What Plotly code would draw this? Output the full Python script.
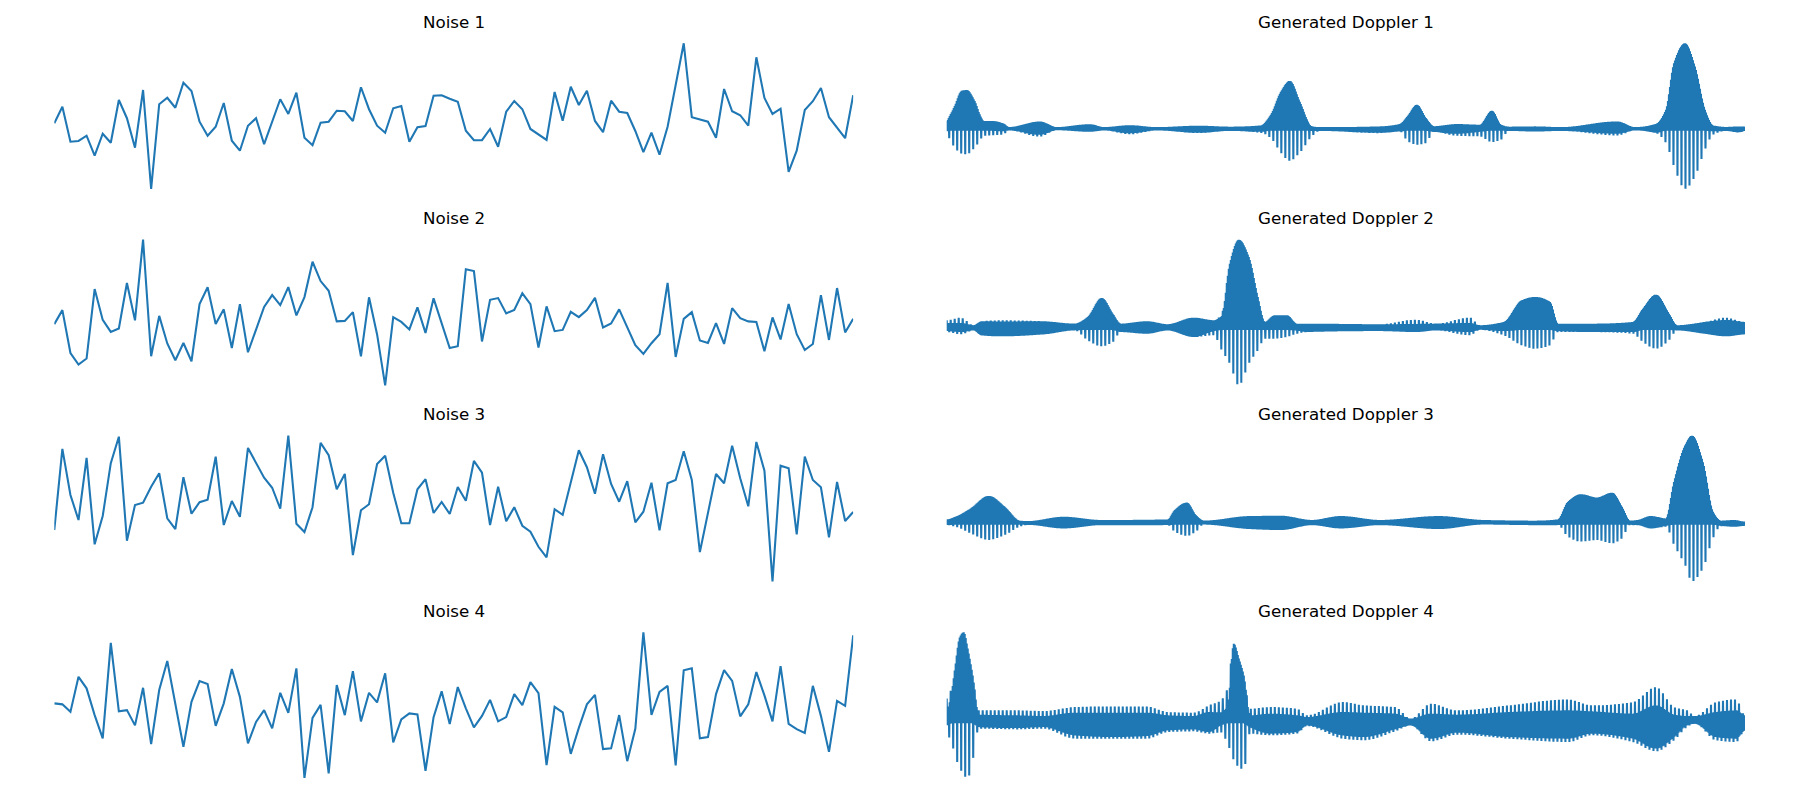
import numpy as np
import plotly.graph_objects as go

# ---------------- Noise series (arbitrary units, 100 samples each) ----------------
noise_1 = [-0.13, 0.53, -0.87, -0.84, -0.63, -1.43, -0.55, -0.91, 0.80, 0.07,
           -1.11, 1.20, -2.76, 0.63, 0.89, 0.49, 1.49, 1.16, -0.07, -0.63,
           -0.27, 0.68, -0.83, -1.23, -0.23, 0.07, -0.97, -0.07, 0.83, 0.24,
           1.09, -0.71, -1.01, -0.11, -0.07, 0.37, 0.35, -0.04, 1.31, 0.43,
           -0.23, -0.51, 0.47, 0.56, -0.87, -0.29, -0.24, 0.97, 0.99, 0.85,
           0.73, -0.43, -0.81, -0.81, -0.36, -1.07, 0.33, 0.76, 0.43, -0.36,
           -0.57, -0.80, 1.12, -0.03, 1.33, 0.60, 1.17, -0.04, -0.49, 0.77,
           0.33, 0.28, -0.44, -1.29, -0.51, -1.39, -0.27, 1.40, 3.07, 0.11,
           0.03, -0.07, -0.71, 1.24, 0.35, 0.19, -0.23, 2.51, 0.88, 0.24,
           0.45, -2.08, -1.23, 0.40, 0.75, 1.28, 0.11, -0.31, -0.73, 0.99]
noise_2 = [-0.32, 0.24, -1.47, -1.93, -1.69, 1.08, -0.15, -0.63, -0.49, 1.32,
           -0.17, 3.05, -1.60, 0.01, -1.09, -1.76, -1.07, -1.80, 0.48, 1.15,
           -0.31, 0.27, -1.27, 0.48, -1.44, -0.56, 0.37, 0.84, 0.44, 1.16,
           0.03, 0.76, 2.17, 1.40, 1.01, -0.21, -0.19, 0.16, -1.60, 0.75,
           -0.73, -2.76, -0.04, -0.23, -0.53, 0.35, -0.67, 0.71, -0.32, -1.27,
           -1.20, 1.87, 1.80, -1.01, 0.65, 0.72, 0.11, 0.25, 0.91, 0.48,
           -1.25, 0.39, -0.60, -0.55, 0.17, -0.04, 0.24, 0.73, -0.45, -0.29,
           0.27, -0.45, -1.16, -1.51, -1.08, -0.72, 1.33, -1.63, -0.11, 0.16,
           -0.97, -1.07, -0.28, -1.11, 0.32, -0.08, -0.21, -0.23, -1.40, -0.05,
           -0.93, 0.48, -0.72, -1.35, -1.11, 0.84, -0.95, 1.12, -0.65, -0.11]
noise_3 = [-1.00, 2.24, 0.40, -0.60, 1.88, -1.57, -0.44, 1.67, 2.73, -1.43,
           0.00, 0.09, 0.73, 1.27, -0.53, -0.96, 1.11, -0.35, 0.11, 0.21,
           1.93, -0.80, 0.16, -0.47, 2.28, 1.67, 1.09, 0.69, -0.15, 2.77,
           -0.75, -1.08, -0.09, 2.48, 1.99, 0.63, 1.24, -2.00, -0.21, 0.03,
           1.64, 1.97, 0.49, -0.73, -0.73, 0.63, 1.03, -0.32, 0.12, -0.36,
           0.72, 0.17, 1.76, 1.29, -0.80, 0.73, -0.65, -0.09, -0.83, -1.07,
           -1.67, -2.09, -0.17, -0.39, 0.87, 2.19, 1.51, 0.45, 2.03, 0.84,
           0.13, 0.95, -0.69, -0.27, 0.89, -1.01, 0.87, 1.00, 2.15, 1.00,
           -1.88, -0.29, 1.24, 0.87, 2.37, 1.07, -0.05, 2.52, 1.37, -3.05,
           1.57, 1.47, -1.17, 1.93, 1.00, 0.71, -1.29, 0.92, -0.64, -0.28]
noise_4 = [0.07, 0.03, -0.27, 1.13, 0.67, -0.40, -1.33, 2.49, -0.25, -0.20,
           -0.81, 0.69, -1.56, 0.60, 1.76, 0.07, -1.67, 0.13, 0.96, 0.84,
           -0.83, 0.07, 1.44, 0.33, -1.53, -0.67, -0.20, -0.93, 0.49, -0.31,
           1.47, -2.91, -0.51, 0.01, -2.73, 0.80, -0.40, 1.36, -0.65, 0.49,
           0.11, 1.27, -1.49, -0.57, -0.33, -0.37, -2.63, -0.48, 0.55, -0.76,
           0.72, -0.13, -0.89, -0.43, 0.21, -0.65, -0.48, 0.44, 0.00, 0.92,
           0.48, -2.40, -0.07, -0.29, -1.95, -0.91, 0.03, 0.41, -1.76, -1.73,
           -0.40, -2.24, -0.95, 2.91, -0.39, 0.53, 0.77, -2.41, 1.39, 1.47,
           -1.33, -1.28, 0.44, 1.40, 0.97, -0.45, 0.03, 1.32, 0.39, -0.65,
           1.56, -0.75, -0.96, -1.11, 0.77, -0.43, -1.87, 0.17, -0.03, 2.79]

noise_titles = ["Noise 1", "Noise 2", "Noise 3", "Noise 4"]
doppler_titles = ["Generated Doppler 1", "Generated Doppler 2",
                  "Generated Doppler 3", "Generated Doppler 4"]

# ---------------- Generated Doppler envelopes ----------------
# knot times, upper peak, lower peak, upper edge of solid core, lower edge of solid core
d1_t = [0, 3, 8, 15, 20, 28, 33, 37, 45, 57, 62, 93, 110, 143, 157, 183, 210, 252,
        283, 314, 324, 334, 343, 353, 365, 373, 433, 453, 461, 470, 479, 487, 510,
        533, 545, 554, 562, 588, 614, 670, 688, 709, 719, 727, 738, 748, 758, 766,
        779, 792, 798]
d1_top = [7.8, 12.8, 22.8, 38, 38.8, 27.8, 14.5, 7.8, 7.8, 5, 1.5, 7.2, 1.5, 4.5,
          1.5, 3.5, 1.5, 3, 2, 3.3, 14, 37, 48, 27, 2.3, 1.5, 2.3, 4.7, 13, 24,
          10.7, 2.5, 4.7, 4, 18, 4, 2, 2.3, 1.5, 7.3, 1.5, 4.7, 19, 65.7, 85.7,
          62.3, 19, 3.3, 1.7, 2.3, 2]
d1_bot = [5.5, 10.5, 19, 25, 25.5, 19, 12, 7, 6.5, 5.5, 1.5, 7.8, 1.3, 3, 1.5,
          5.5, 1.5, 4.3, 2, 4, 9.3, 24, 32, 24, 7.7, 2, 4.3, 2.7, 12.7, 16, 14.3,
          3, 7, 7.7, 13.3, 11, 2, 2.7, 2, 6.7, 1.5, 4.3, 14.3, 37.7, 60.3, 47.7,
          21, 6, 2, 3.7, 2]
d1_core_top = d1_top
d1_core_bot = [2.5, 2, 2, 2, 2, 2, 2, 2, 2, 2.5, 1.5, 6, 1.3, 3, 1.5, 4.5, 1.5, 4,
               2, 3, 2, 2, 2, 2, 2, 2, 4, 2.7, 2, 2, 2, 3, 5, 3, 2, 2, 2, 2.7, 2,
               5, 1.5, 4, 2, 2, 2, 2, 2, 2.5, 2, 3.5, 2]

d2_t = [0, 14, 27, 35, 55, 97, 128, 141, 155, 166, 174, 200, 221, 247, 267, 275,
        283, 292, 302, 311, 318, 328, 340, 350, 360, 433, 469, 489, 523, 533, 557,
        575, 588, 603, 611, 645, 686, 696, 709, 722, 730, 758, 779, 798]
d2_top = [7.7, 10.3, 2.7, 6.7, 7.7, 6.7, 4.3, 11, 30, 14.3, 4.3, 6.7, 3.7, 10.3,
          7.7, 14.3, 64.3, 88.3, 71, 31, 6, 12.7, 12.7, 4.3, 4.3, 3.7, 8.3, 4.3,
          10.3, 2.7, 6, 27.7, 31, 26, 4.3, 4.3, 6, 19.3, 33.3, 14.3, 2.7, 6,
          10.3, 6]
d2_bot = [4, 6.3, 2.3, 7.3, 8.3, 6.3, 2.3, 12.3, 18.3, 14, 4, 5.7, 2.3, 9, 7.3,
          22.3, 35.7, 57.3, 35.7, 22.3, 10.7, 10.7, 9, 5.7, 4, 3, 4, 2.3, 7.3,
          1.7, 7.3, 17.3, 20.7, 17.3, 4, 4, 5.7, 14, 20.7, 12.3, 2.3, 5.7, 8.3,
          6.3]
d2_core_top = [5, 5, 2.7, 6.7, 6.5, 6.7, 4.3, 11, 30, 14.3, 4.3, 6.7, 3.7, 10.3,
               7.7, 12, 64.3, 88.3, 71, 31, 6, 12.7, 12.7, 4.3, 4.3, 3.7, 4, 4.3,
               5, 2.7, 6, 27.7, 31, 26, 4.3, 4.3, 6, 19.3, 33.3, 14.3, 2.7, 6,
               8, 6]
d2_core_bot = [3, 4, 2.3, 7.3, 8.3, 6.3, 2.3, 2, 2, 2, 4, 5.7, 2.3, 9, 3, 2, 2, 2,
               2, 2, 2, 2, 2, 2.5, 4, 3, 4, 2.3, 4, 1.7, 3, 2, 2, 2, 3, 4, 4, 2,
               2, 2, 2.3, 5.7, 8.3, 6.3]

d3_t = [0, 9, 24, 42, 58, 73, 81, 117, 154, 221, 228, 240, 249, 257, 303, 334,
        365, 394, 433, 492, 536, 588, 611, 621, 634, 650, 665, 675, 683, 691, 704,
        719, 727, 738, 745, 756, 766, 774, 787, 798]
d3_top = [3.3, 6, 14.3, 27, 16, 2, 1.5, 6, 2.7, 3.3, 12.7, 20.3, 7.7, 2, 6.7, 7,
          2.7, 6.7, 2.7, 6.7, 2.7, 2, 3.3, 21, 28.7, 25.3, 30.3, 16, 2, 2.7, 6.7,
          4.3, 41, 77.7, 87.7, 61, 11, 2, 2.7, 1]
d3_bot = [2.3, 4, 10.7, 17.3, 12.3, 4, 2, 5.7, 2.3, 2.3, 9, 13.3, 9, 1.7, 6.3,
          7.3, 2.3, 5.7, 2.3, 6.3, 1.7, 2.3, 2.3, 14, 19, 17.3, 20.7, 15.7, 2.3,
          2.3, 5.7, 4, 22.3, 42.3, 59, 45.7, 15.7, 3.3, 4, 3]
d3_core_top = d3_top
d3_core_bot = [2.3, 2, 2, 2, 2, 2, 2, 5.7, 2.3, 2.3, 2, 2, 2, 1.7, 6.3, 7.3, 2.3,
               5.7, 2.3, 6.3, 1.7, 2.3, 2.3, 2, 2, 2, 2, 2, 2, 2.3, 5.7, 3, 2, 2,
               2, 2, 2, 3, 4, 3]

d4_t = [0, 5, 8, 13, 17, 21, 26, 32, 71, 97, 128, 164, 200, 221, 247, 262, 274,
        281, 287, 292, 297, 303, 324, 350, 360, 396, 417, 448, 464, 484, 510, 562,
        621, 645, 686, 709, 727, 740, 748, 769, 789, 798]
d4_top = [22, 33, 50, 83, 88.3, 72, 45, 10, 10, 9.3, 13.3, 14, 14, 8.3, 7.7, 15,
          20, 33, 76.7, 62, 45, 11.7, 13.3, 11.7, 5, 18.3, 15, 13.3, 1.7, 16.7,
          10, 15, 21, 15, 18.3, 33.3, 13.3, 10, 4.3, 18.3, 21, 5]
d4_bot = [15, 22, 35, 47, 55, 57.7, 40, 8.3, 9, 8.3, 18.3, 18.3, 18.3, 11.7, 11,
          13.3, 12, 24, 40, 47, 49.3, 13.3, 15, 13.3, 5.7, 18.3, 20, 11, 5, 21,
          14.3, 18.3, 21.7, 15, 21.7, 31, 20, 6.7, 3.3, 20, 21.7, 10]
d4_core_top = [10, 28, 50, 83, 88.3, 72, 45, 5.7, 5, 4.3, 7.7, 7.7, 7.7, 5, 4.3,
               8.3, 8, 15, 76.7, 62, 45, 5, 6.7, 5, 3.3, 8.3, 7.7, 6.7, 1.7, 6.7,
               5.7, 8.3, 10, 9, 6.7, 15, 5.7, 4.3, 4.3, 8.3, 10, 5]
d4_core_bot = [5, 3, 3, 3, 3, 3, 3, 6.7, 7.7, 6.7, 15, 16.7, 15.7, 10, 9, 11.7,
               5, 3, 3, 3, 3, 6.7, 13.3, 11.7, 5, 15, 16.7, 9, 5, 18.3, 12.3,
               16.7, 18.3, 13.3, 18.3, 28.3, 16.7, 5, 3.3, 16.7, 18.3, 10]

noise_series = [noise_1, noise_2, noise_3, noise_4]
doppler_series = [
    (d1_t, d1_top, d1_bot, d1_core_top, d1_core_bot),
    (d2_t, d2_top, d2_bot, d2_core_top, d2_core_bot),
    (d3_t, d3_top, d3_bot, d3_core_top, d3_core_bot),
    (d4_t, d4_top, d4_bot, d4_core_top, d4_core_bot),
]


def pchip(xk, yk, x):
    """Shape-preserving cubic through the envelope knots."""
    xk = np.asarray(xk, float)
    yk = np.asarray(yk, float)
    h = np.diff(xk)
    delta = np.diff(yk) / h
    n = len(xk)
    d = np.zeros(n)
    for k in range(1, n - 1):
        if delta[k - 1] * delta[k] > 0:
            w1 = 2 * h[k] + h[k - 1]
            w2 = h[k] + 2 * h[k - 1]
            d[k] = (w1 + w2) / (w1 / delta[k - 1] + w2 / delta[k])
    idx = np.clip(np.searchsorted(xk, x, side="right") - 1, 0, n - 2)
    hh = h[idx]
    s = (x - xk[idx]) / hh
    h00 = 2 * s ** 3 - 3 * s ** 2 + 1
    h10 = s ** 3 - 2 * s ** 2 + s
    h01 = -2 * s ** 3 + 3 * s ** 2
    h11 = s ** 3 - s ** 2
    out = h00 * yk[idx] + h10 * hh * d[idx] + h01 * yk[idx + 1] + h11 * hh * d[idx + 1]
    return np.clip(out, 0, None)


def doppler_signal(tk, top, bot, core_top, core_bot):
    t = np.arange(0, tk[-1] + 1e-9, 0.5)
    up = pchip(tk, top, t)
    dn = pchip(tk, bot, t)
    cu = np.minimum(pchip(tk, core_top, t), up)
    cd = np.minimum(pchip(tk, core_bot, t), dn)
    k = np.arange(len(t)) % 8
    y = np.where(k % 2 == 1, -cd, cu)
    y = np.where(k == 0, up, y)
    y = np.where(k == 5, -dn, y)
    return t, y


# ---------------- Layout ----------------
W, H = 1800, 800
BLUE = "#1f77b4"
axes_top_px = [36.0, 232.4, 428.4, 625.0]
axes_h_px = 160.2
left_dom = [54.3 / W, 853.2 / W]
right_dom = [946.7 / W, 1745.0 / W]
title_font = dict(family="DejaVu Sans", size=16.7, color="black")

fig = go.Figure()
layout = dict(width=W, height=H, margin=dict(l=0, r=0, t=0, b=0),
              paper_bgcolor="white", plot_bgcolor="white", showlegend=False)
annotations = []

ax = 1
for r in range(4):
    ydom = [1 - (axes_top_px[r] + axes_h_px) / H, 1 - axes_top_px[r] / H]
    title_y = 1 - (axes_top_px[r] - 14.3) / H

    # Noise panel
    vals = noise_series[r]
    lo, hi = min(vals), max(vals)
    pad = 0.05 * (hi - lo)
    xs = "" if ax == 1 else str(ax)
    fig.add_trace(go.Scatter(x=list(range(len(vals))), y=vals, mode="lines",
                             line=dict(color=BLUE, width=2.08),
                             xaxis="x" + xs, yaxis="y" + xs, hoverinfo="skip"))
    layout["xaxis" + xs] = dict(domain=left_dom, range=[0, len(vals) - 1],
                                anchor="y" + xs, visible=False)
    layout["yaxis" + xs] = dict(domain=ydom, range=[lo - pad, hi + pad],
                                anchor="x" + xs, visible=False)
    annotations.append(dict(x=sum(left_dom) / 2, y=title_y, xref="paper",
                            yref="paper", text=noise_titles[r], showarrow=False,
                            xanchor="center", yanchor="middle", font=title_font))
    ax += 1

    # Doppler panel
    tk, top, bot, ctop, cbot = doppler_series[r]
    t, y = doppler_signal(tk, top, bot, ctop, cbot)
    lo, hi = -max(bot), max(top)
    pad = 0.05 * (hi - lo)
    xs = str(ax)
    fig.add_trace(go.Scatter(x=t, y=y, mode="lines",
                             line=dict(color=BLUE, width=2.08, simplify=False),
                             xaxis="x" + xs, yaxis="y" + xs, hoverinfo="skip"))
    layout["xaxis" + xs] = dict(domain=right_dom, range=[0, tk[-1]],
                                anchor="y" + xs, visible=False)
    layout["yaxis" + xs] = dict(domain=ydom, range=[lo - pad, hi + pad],
                                anchor="x" + xs, visible=False)
    annotations.append(dict(x=sum(right_dom) / 2, y=title_y, xref="paper",
                            yref="paper", text=doppler_titles[r], showarrow=False,
                            xanchor="center", yanchor="middle", font=title_font))
    ax += 1

layout["annotations"] = annotations
fig.update_layout(**layout)
fig.write_html("out.html", config={"displayModeBar": False})
